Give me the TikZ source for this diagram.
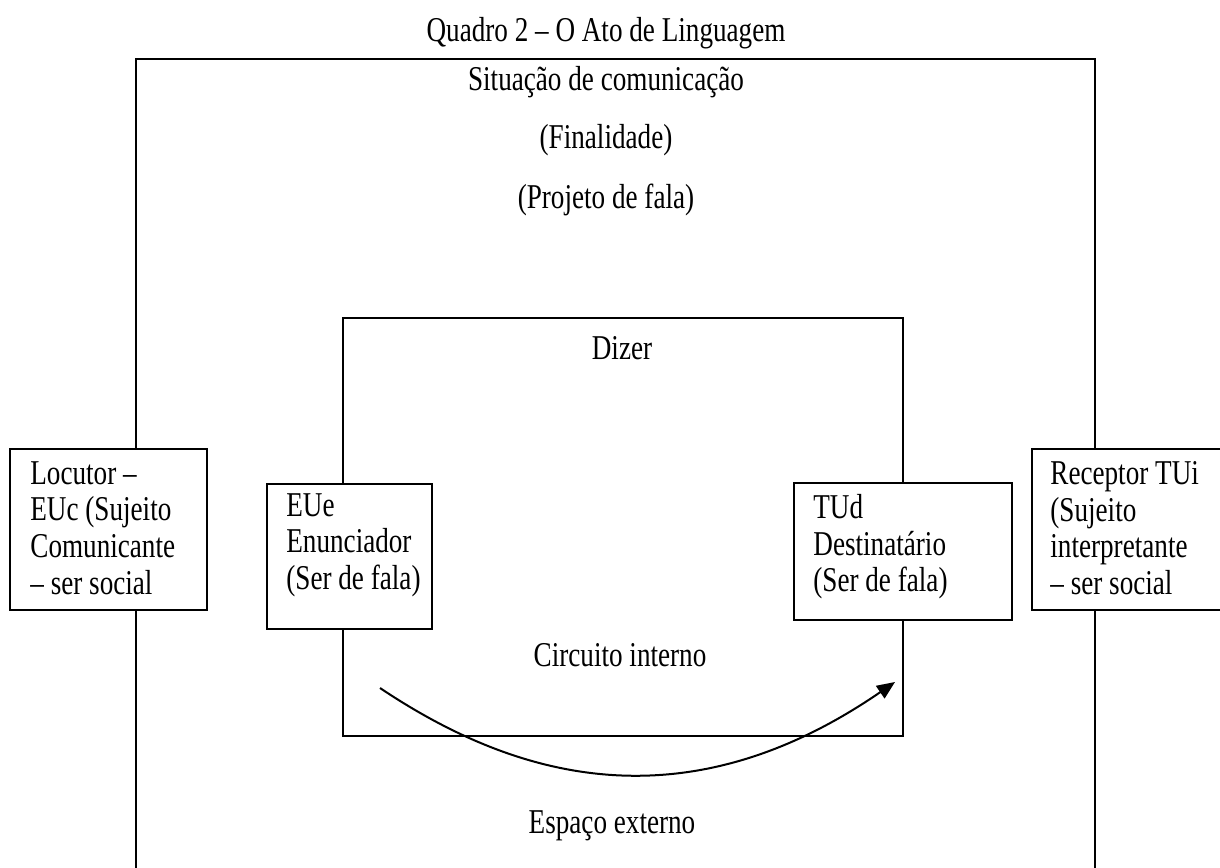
\documentclass[tikz,border=0pt]{standalone}
\usepackage{fontspec}
\setmainfont{Liberation Serif}[FakeStretch=0.78]
\usetikzlibrary{arrows.meta, positioning, calc}

\begin{document}
\begin{tikzpicture}[x=0.5pt, y=-0.5pt,
    frame/.style={line width=1pt},
    box/.style={draw, line width=1pt, fill=white},
    lbl/.style={inner sep=0pt, font=\fontsize{17.4}{18.35}\selectfont},
    boxtxt/.style={lbl, anchor=north west, align=left},
]
  \useasboundingbox (0,0) rectangle (1220,867);

  % outer frame (open at the bottom) and inner frame
  \draw[frame] (136,880) -- (136,59) -- (1095,59) -- (1095,880);
  \draw[frame] (343,318) rectangle (903,736);

  % side boxes
  \draw[box] (10,449) rectangle (207,610);
  \draw[box] (1032,449) rectangle (1240,610);
  \draw[box] (267,484) rectangle (432,629);
  \draw[box] (794,483) rectangle (1012,620);

  % texts
  \node[lbl] (title) at (606,33) {Quadro 2 – O Ato de Linguagem};
  \node[lbl] (sit) at (606,82) {Situação de comunicação};
  \node[lbl] (fin) at (606,140) {(Finalidade)};
  \node[lbl] (proj) at (606,200) {(Projeto de fala)};
  \node[lbl] (dizer) at (622,348) {Dizer};
  \node[lbl] (circ) at (620,655) {Circuito interno};
  \node[lbl] (esp) at (612,826) {Espaço externo};

  \node[boxtxt] (loc) at (30,461) {Locutor –\\EUc (Sujeito\\Comunicante\\– ser social};
  \node[boxtxt] (rec) at (1050,461) {Receptor TUi\\(Sujeito\\interpretante\\– ser social};
  \node[boxtxt] (eue) at (286,493) {EUe\\Enunciador\\(Ser de fala)};
  \node[boxtxt] (tud) at (813,494) {TUd\\Destinatário\\(Ser de fala)};

  % circuit arrow
  \coordinate (arrS) at (380,688);
  \coordinate (arrE) at (895,682);
  \draw[line width=1pt, -{Triangle[length=9pt, width=7.5pt]}]
    (arrS) .. controls (510,775) and (680,830) .. (arrE);
\end{tikzpicture}
\end{document}
